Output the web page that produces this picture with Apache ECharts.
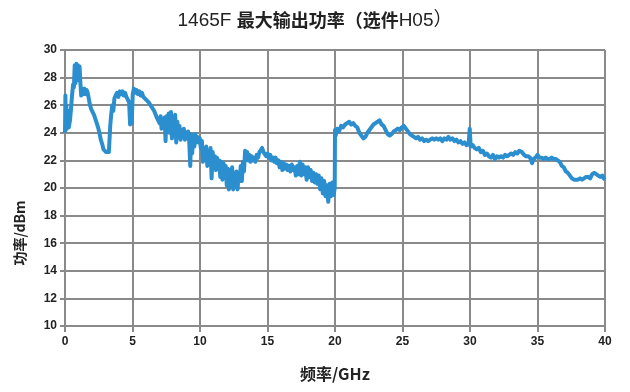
<!DOCTYPE html>
<html>
<head>
<meta charset="utf-8">
<script src="https://cdn.jsdelivr.net/npm/echarts@6/dist/echarts.min.js"></script>
<style>
  html, body { margin: 0; padding: 0; background: #fff; }
  #chart { width: 630px; height: 392px; }
</style>
</head>
<body>
<div id="chart"></div>
<script>
// Frequency sweep (GHz) and measured maximum output power (dBm)
const freqGHz = [
  0.00,0.03,0.06,0.10,0.14,0.20,0.28,0.37,0.45,0.52,0.60,0.66,0.72,0.78,0.84,0.90,0.96,1.02,1.08,1.14,
  1.20,1.28,1.36,1.44,1.52,1.60,1.68,1.76,1.85,1.95,2.05,2.15,2.25,2.35,2.45,2.55,2.65,2.75,2.85,2.95,
  3.05,3.15,3.25,3.30,3.35,3.42,3.50,3.58,3.66,3.75,3.85,3.95,4.05,4.15,4.25,4.35,4.45,4.55,4.65,4.75,
  4.82,4.88,4.94,5.02,5.10,5.20,5.30,5.40,5.50,5.60,5.70,5.80,5.90,6.00,6.10,6.20,6.30,6.40,6.50,6.60,
  6.70,6.80,6.90,7.00,7.08,7.15,7.22,7.30,7.38,7.45,7.52,7.60,7.68,7.76,7.85,7.92,8.00,8.08,8.16,8.24,
  8.32,8.40,8.48,8.56,8.64,8.72,8.80,8.88,8.96,9.04,9.12,9.20,9.28,9.34,9.42,9.50,9.58,9.66,9.74,9.82,
  9.90,9.98,10.06,10.14,10.22,10.30,10.38,10.46,10.54,10.62,10.70,10.78,10.86,10.94,11.02,11.10,11.18,11.26,11.34,11.42,
  11.50,11.58,11.66,11.74,11.82,11.90,11.98,12.06,12.14,12.22,12.30,12.38,12.46,12.54,12.62,12.70,12.78,12.86,12.94,13.02,
  13.10,13.18,13.26,13.34,13.42,13.50,13.58,13.66,13.74,13.82,13.90,14.00,14.10,14.20,14.30,14.40,14.50,14.60,14.70,14.80,
  14.90,15.00,15.10,15.20,15.30,15.40,15.50,15.60,15.70,15.80,15.90,16.00,16.10,16.20,16.30,16.40,16.50,16.60,16.70,16.80,
  16.90,17.00,17.10,17.20,17.30,17.40,17.50,17.60,17.70,17.80,17.90,18.00,18.10,18.20,18.30,18.40,18.50,18.60,18.70,18.80,
  18.90,19.00,19.10,19.20,19.30,19.40,19.50,19.60,19.70,19.80,19.90,19.98,20.00,20.05,20.15,20.30,20.45,20.60,20.75,20.90,
  21.05,21.20,21.35,21.50,21.65,21.80,21.95,22.10,22.25,22.40,22.55,22.70,22.85,23.00,23.15,23.30,23.45,23.60,23.75,23.90,
  24.05,24.20,24.35,24.50,24.65,24.80,24.95,25.10,25.25,25.40,25.55,25.70,25.85,26.00,26.15,26.30,26.45,26.60,26.75,26.90,
  27.05,27.20,27.35,27.50,27.65,27.80,27.95,28.10,28.25,28.40,28.55,28.70,28.85,29.00,29.15,29.30,29.45,29.60,29.75,29.90,
  29.98,30.05,30.20,30.35,30.50,30.65,30.80,30.95,31.10,31.25,31.40,31.55,31.70,31.85,32.00,32.15,32.30,32.45,32.60,32.75,
  32.90,33.05,33.20,33.35,33.50,33.65,33.75,33.85,34.00,34.15,34.30,34.45,34.60,34.70,34.85,35.00,35.15,35.30,35.45,35.60,
  35.75,35.90,36.05,36.20,36.35,36.50,36.65,36.80,36.95,37.10,37.25,37.40,37.55,37.70,37.85,38.00,38.15,38.30,38.45,38.60,
  38.75,38.90,39.05,39.20,39.35,39.50,39.65,39.80,39.90,40.00
];

const powerDBm = [
  24.0,26.7,24.2,26.0,24.3,25.6,24.4,24.9,25.8,26.7,27.5,27.3,28.9,27.6,29.0,27.8,28.9,27.9,28.8,27.6,
  26.7,27.2,26.8,27.2,26.8,27.1,26.9,26.5,26.0,25.7,25.6,25.3,25.2,24.7,24.4,24.0,23.5,23.2,22.8,22.7,
  22.6,22.7,22.6,22.6,24.5,25.3,26.0,25.6,26.5,26.7,26.9,26.6,27.0,26.8,27.0,26.7,26.9,26.6,26.4,26.2,
  24.6,25.5,24.7,26.8,27.2,26.9,27.1,26.8,27.0,26.7,26.9,26.6,26.7,26.4,26.5,26.2,26.3,25.9,26.0,25.6,
  25.5,25.1,25.2,24.7,25.2,24.3,25.0,24.5,25.1,23.4,25.2,24.2,25.4,24.0,25.5,23.6,25.0,24.0,25.3,23.3,
  24.8,23.9,24.5,23.5,24.2,23.8,24.3,23.5,24.0,23.6,24.1,23.4,21.6,23.9,22.5,23.8,23.0,23.9,23.3,23.7,
  23.3,23.6,22.9,23.4,21.9,22.8,22.2,23.0,21.6,22.6,22.0,22.9,20.7,22.6,21.5,22.3,21.3,22.2,21.6,22.0,
  20.8,21.9,20.6,21.8,21.0,21.6,20.2,21.4,19.9,21.3,20.4,21.5,19.9,21.0,20.3,21.2,19.9,20.9,20.5,21.6,
  20.5,21.9,21.2,22.7,22.2,22.6,22.0,22.4,21.9,22.3,22.0,22.2,21.9,22.4,22.2,22.6,22.5,22.9,22.6,22.7,
  22.3,22.5,22.2,22.4,22.0,22.2,21.9,22.2,21.8,22.0,21.5,21.9,21.3,21.8,21.4,21.7,21.3,21.6,21.2,21.7,
  21.3,21.5,20.9,21.6,21.0,21.9,20.9,21.7,21.0,21.5,20.6,21.5,20.8,21.3,20.5,21.1,20.4,21.0,20.3,20.9,
  19.9,20.7,19.6,20.5,19.4,20.2,19.0,20.3,19.4,20.4,19.5,20.0,24.2,23.8,24.3,24.1,24.5,24.4,24.6,24.7,
  24.8,24.6,24.7,24.5,24.4,24.0,23.8,23.6,23.7,24.0,24.2,24.4,24.6,24.7,24.8,24.9,24.6,24.5,24.2,23.9,
  23.8,23.9,24.1,24.2,24.3,24.2,24.4,24.5,24.3,24.1,23.9,23.8,23.7,23.6,23.7,23.5,23.6,23.4,23.5,23.4,
  23.5,23.6,23.5,23.6,23.5,23.6,23.4,23.6,23.5,23.7,23.5,23.6,23.4,23.5,23.3,23.4,23.2,23.3,23.1,23.2,
  24.3,23.0,23.1,22.9,22.8,22.9,22.6,22.7,22.4,22.5,22.3,22.2,22.4,22.1,22.3,22.2,22.3,22.2,22.4,22.3,
  22.4,22.5,22.4,22.6,22.5,22.7,22.8,22.6,22.4,22.3,22.3,22.2,21.8,22.1,22.2,22.4,22.2,22.2,22.1,22.2,
  22.1,22.1,22.2,22.1,22.1,22.0,21.9,21.6,21.5,21.2,21.1,20.9,20.7,20.6,20.6,20.6,20.7,20.6,20.7,20.8,
  20.8,20.7,21.0,21.1,21.0,20.9,20.8,20.9,20.7,20.6
];

const xTicks = { min: 0, max: 40, step: 5 };
const yTicks = { min: 10, max: 30, step: 2 };

const seriesData = freqGHz.map((f, i) => [f, powerDBm[i]]);

const gridColor = '#8a8a8a';
const labelFont = '"Liberation Sans", "Noto Sans CJK SC", sans-serif';

const chart = echarts.init(document.getElementById('chart'), null, { renderer: 'canvas' });
chart.setOption({
  animation: false,
  backgroundColor: '#ffffff',
  title: {
    text: '{a|1465F }{b|最大输出功率（选件}{a|H05）}',
    left: 'center',
    top: 6,
    textStyle: {
      rich: {
        a: { fontFamily: labelFont, fontSize: 19, color: '#222', fontWeight: 'normal' },
        b: { fontFamily: '"Noto Sans CJK SC", sans-serif', fontSize: 18, color: '#222', fontWeight: 'bold' }
      }
    }
  },
  grid: { left: 65, right: 25, top: 50, bottom: 66, containLabel: false },
  xAxis: {
    type: 'value',
    min: xTicks.min, max: xTicks.max, interval: xTicks.step,
    name: '频率/GHz',
    nameLocation: 'middle',
    nameGap: 40,
    nameTextStyle: { fontFamily: '"Noto Sans CJK SC", sans-serif', fontSize: 16, fontWeight: 'bold', color: '#222' },
    axisLine: { show: true, lineStyle: { color: gridColor, width: 2 } },
    axisTick: { show: true, inside: false, length: 6, lineStyle: { color: gridColor, width: 2 } },
    axisLabel: { fontFamily: labelFont, fontSize: 12, fontWeight: 'bold', color: '#222', margin: 10 },
    splitLine: { show: true, lineStyle: { color: gridColor, width: 2 } }
  },
  yAxis: {
    type: 'value',
    min: yTicks.min, max: yTicks.max, interval: yTicks.step,
    name: '功率/dBm',
    nameLocation: 'middle',
    nameGap: 38,
    nameTextStyle: { fontFamily: '"Noto Sans CJK SC", sans-serif', fontSize: 14, fontWeight: 'bold', color: '#222', padding: [0, 90, 0, 0] },
    axisLine: { show: true, lineStyle: { color: gridColor, width: 2 } },
    axisTick: { show: true, inside: false, length: 5, lineStyle: { color: gridColor, width: 2 } },
    axisLabel: { fontFamily: labelFont, fontSize: 12, fontWeight: 'bold', color: '#222', margin: 8 },
    splitLine: { show: true, lineStyle: { color: gridColor, width: 2 } }
  },
  series: [{
    type: 'line',
    data: seriesData,
    showSymbol: false,
    symbol: 'none',
    lineStyle: { color: '#2b8ecf', width: 4, join: 'round' },
    z: 5
  }]
});
</script>
</body>
</html>
